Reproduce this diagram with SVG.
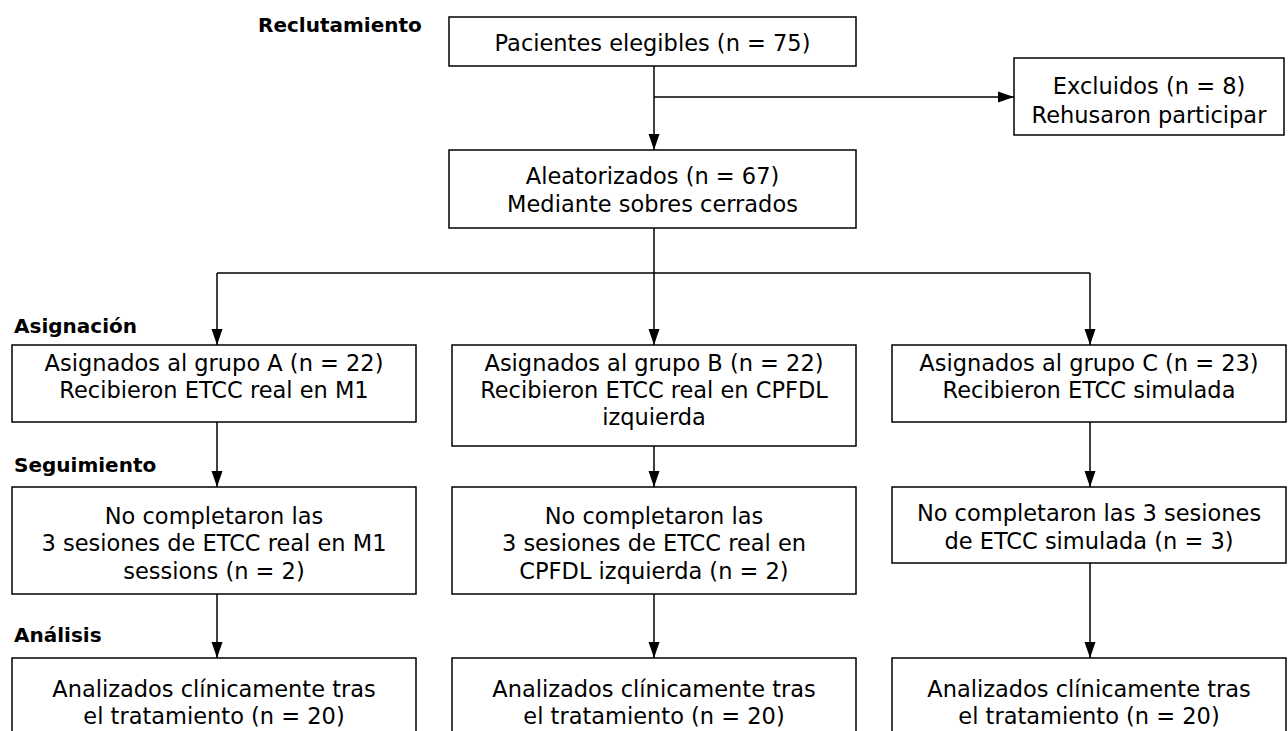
<svg xmlns="http://www.w3.org/2000/svg" width="1288" height="731" viewBox="0 0 1288 731">
<style>
.box{fill:#fff;stroke:#000;stroke-width:1.5}
.t{font-family:"DejaVu Sans",sans-serif;font-size:22.5px;text-anchor:middle;fill:#000}
.h{font-family:"DejaVu Sans",sans-serif;font-size:20px;font-weight:bold;fill:#000}
.c{fill:none;stroke:#000;stroke-width:1.5}
</style>
<defs>
<marker id="arr" viewBox="0 0 16 12" refX="16" refY="6" markerWidth="16" markerHeight="12" markerUnits="userSpaceOnUse" orient="auto">
<path d="M0,0.5 L16,6 L0,11.5 z" fill="#000"/>
</marker>
</defs>
<rect width="1288" height="731" fill="#fff"/>
<g id="labels">
<text class="h" x="258" y="32">Reclutamiento</text>
<text class="h" x="14" y="333">Asignación</text>
<text class="h" x="14" y="472">Seguimiento</text>
<text class="h" x="14" y="642">Análisis</text>
</g>
<g id="connectors">
<path class="c" d="M654,66 V150" marker-end="url(#arr)"/>
<path class="c" d="M654,97 H1014" marker-end="url(#arr)"/>
<path class="c" d="M654,228 V273 M217,273 H1090"/>
<path class="c" d="M217,273 V345" marker-end="url(#arr)"/>
<path class="c" d="M654,273 V345" marker-end="url(#arr)"/>
<path class="c" d="M1090,273 V345" marker-end="url(#arr)"/>
<path class="c" d="M217,422 V487" marker-end="url(#arr)"/>
<path class="c" d="M654,446 V487" marker-end="url(#arr)"/>
<path class="c" d="M1090,422 V487" marker-end="url(#arr)"/>
<path class="c" d="M217,594 V658" marker-end="url(#arr)"/>
<path class="c" d="M654,594 V658" marker-end="url(#arr)"/>
<path class="c" d="M1090,563 V658" marker-end="url(#arr)"/>
</g>
<g id="n-elegibles">
<rect class="box" x="449" y="17" width="407" height="49"/>
<text class="t" x="652.5" y="51">Pacientes elegibles (n = 75)</text>
</g>
<g id="n-excluidos">
<rect class="box" x="1014" y="58" width="270" height="77"/>
<text class="t" x="1149" y="94">Excluidos (n = 8)</text>
<text class="t" x="1149" y="123">Rehusaron participar</text>
</g>
<g id="n-aleatorizados">
<rect class="box" x="449" y="150" width="407" height="78"/>
<text class="t" x="652.5" y="184">Aleatorizados (n = 67)</text>
<text class="t" x="652.5" y="212">Mediante sobres cerrados</text>
</g>
<g id="n-grupoA">
<rect class="box" x="12" y="345" width="404" height="77"/>
<text class="t" x="214" y="371">Asignados al grupo A (n = 22)</text>
<text class="t" x="214" y="398">Recibieron ETCC real en M1</text>
</g>
<g id="n-grupoB">
<rect class="box" x="452" y="345" width="404" height="101"/>
<text class="t" x="654" y="371">Asignados al grupo B (n = 22)</text>
<text class="t" x="654" y="398">Recibieron ETCC real en CPFDL</text>
<text class="t" x="654" y="425">izquierda</text>
</g>
<g id="n-grupoC">
<rect class="box" x="892" y="345" width="394" height="77"/>
<text class="t" x="1089" y="371">Asignados al grupo C (n = 23)</text>
<text class="t" x="1089" y="398">Recibieron ETCC simulada</text>
</g>
<g id="n-seguimientoA">
<rect class="box" x="12" y="487" width="404" height="107"/>
<text class="t" x="214" y="524">No completaron las</text>
<text class="t" x="214" y="551">3 sesiones de ETCC real en M1</text>
<text class="t" x="214" y="579">sessions (n = 2)</text>
</g>
<g id="n-seguimientoB">
<rect class="box" x="452" y="487" width="404" height="107"/>
<text class="t" x="654" y="524">No completaron las</text>
<text class="t" x="654" y="551">3 sesiones de ETCC real en</text>
<text class="t" x="654" y="579">CPFDL izquierda (n = 2)</text>
</g>
<g id="n-seguimientoC">
<rect class="box" x="892" y="487" width="394" height="76"/>
<text class="t" x="1089" y="521">No completaron las 3 sesiones</text>
<text class="t" x="1089" y="549">de ETCC simulada (n = 3)</text>
</g>
<g id="n-analisisA">
<rect class="box" x="12" y="658" width="404" height="80"/>
<text class="t" x="214" y="697">Analizados clínicamente tras</text>
<text class="t" x="214" y="724">el tratamiento (n = 20)</text>
</g>
<g id="n-analisisB">
<rect class="box" x="452" y="658" width="404" height="80"/>
<text class="t" x="654" y="697">Analizados clínicamente tras</text>
<text class="t" x="654" y="724">el tratamiento (n = 20)</text>
</g>
<g id="n-analisisC">
<rect class="box" x="892" y="658" width="394" height="80"/>
<text class="t" x="1089" y="697">Analizados clínicamente tras</text>
<text class="t" x="1089" y="724">el tratamiento (n = 20)</text>
</g>
</svg>
